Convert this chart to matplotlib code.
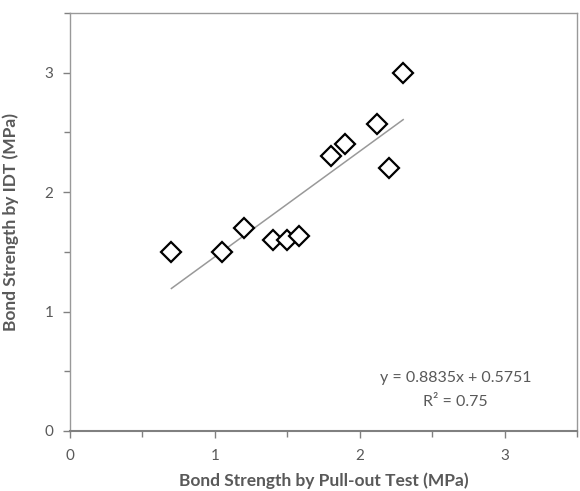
import matplotlib
matplotlib.use("Agg")
import matplotlib.pyplot as plt
import numpy as np
from matplotlib.ticker import MultipleLocator

# pull-out test vs IDT bond strength (MPa)
pullout = [0.70, 1.05, 1.20, 1.40, 1.50, 1.58, 1.80, 1.90, 2.12, 2.20, 2.30]
idt = [1.50, 1.50, 1.70, 1.60, 1.60, 1.63, 2.30, 2.40, 2.57, 2.20, 3.00]

slope = 0.8835
intercept = 0.5751
r2 = 0.75

grey = "#595959"
plt.rcParams['font.family'] = ['Lato', 'DejaVu Sans']

fig = plt.figure(figsize=(5.8, 4.91), dpi=100)
ax = fig.add_axes([0.1207, 0.1222, 0.8741, 0.8513])

xfit = np.array([min(pullout), max(pullout)])
ax.plot(xfit, slope * xfit + intercept, color="#999999", lw=1.1, zorder=1)
ax.plot(pullout, idt, ls="none", marker="D", markersize=10, mfc="white",
        mec="black", mew=1.6, zorder=2)

ax.set_xlim(0, 3.5)
ax.set_ylim(0, 3.5)
ax.xaxis.set_major_locator(MultipleLocator(1))
ax.yaxis.set_major_locator(MultipleLocator(1))
ax.xaxis.set_minor_locator(MultipleLocator(0.5))
ax.yaxis.set_minor_locator(MultipleLocator(0.5))
ax.tick_params(which="both", direction="out", colors="#808080", labelcolor=grey,
               labelsize=11)
ax.tick_params(which="major", length=5, width=1)
ax.tick_params(which="minor", length=4, width=1)
ax.tick_params(axis="x", pad=8)
ax.tick_params(axis="y", pad=7)

for side in ["top", "right", "left"]:
    ax.spines[side].set_color("#999999")
    ax.spines[side].set_linewidth(1)
ax.spines["bottom"].set_color("#808080")
ax.spines["bottom"].set_linewidth(1.5)

ax.set_xlabel("Bond Strength by Pull-out Test (MPa)", fontsize=12.5,
              fontweight="bold", color=grey, labelpad=7)
ax.set_ylabel("Bond Strength by IDT (MPa)", fontsize=12.5,
              fontweight="bold", color=grey, labelpad=18)

ax.text(2.66, 0.44, "y = 0.8835x + 0.5751", fontsize=11.5, color=grey,
        ha="center", va="center")
ax.text(2.66, 0.24, "R² = %.2f" % r2, fontsize=11.5, color=grey,
        ha="center", va="center")

fig.savefig("out.png", dpi=100)
